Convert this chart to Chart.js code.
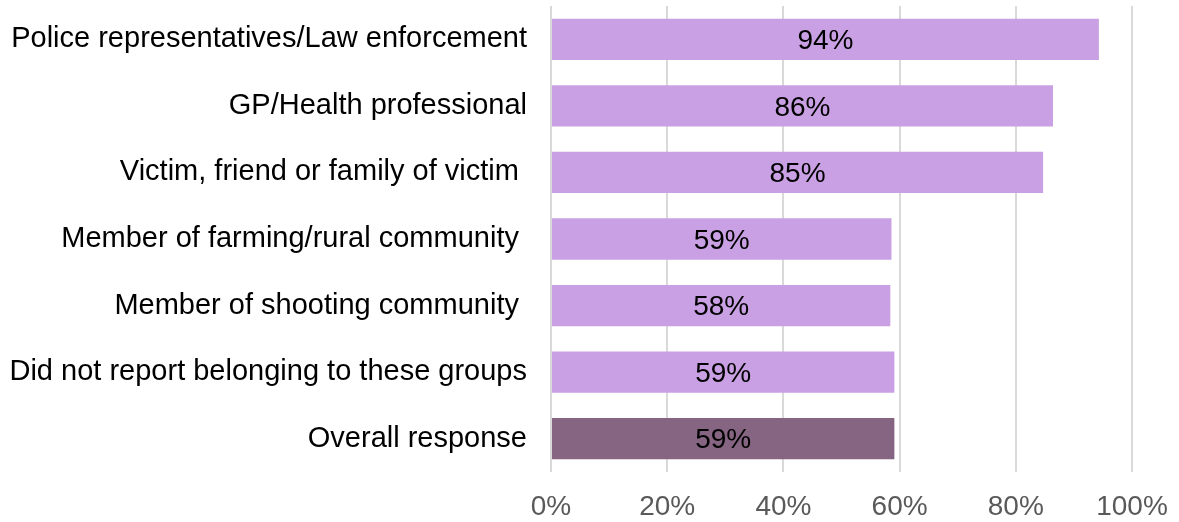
<!DOCTYPE html>
<html>
<head>
<meta charset="utf-8">
<script src="https://cdn.jsdelivr.net/npm/chart.js@4"></script>
<style>
  body { margin: 0; background: #fff; }
  #wrap { width: 1179px; height: 522px; }
</style>
</head>
<body>
<div id="wrap"><canvas id="chart" width="1179" height="522"></canvas></div>
<script>
var categories = [
    'Police representatives/Law enforcement',
    'GP/Health professional',
    'Victim, friend or family of victim ',
    'Member of farming/rural community ',
    'Member of shooting community ',
    'Did not report belonging to these groups',
    'Overall response'
];
var values = [94.3, 86.4, 84.7, 58.6, 58.4, 59.1, 59.1];
var tickValues = [0, 20, 40, 60, 80, 100];

var lightBar = '#c9a0e3';
var darkBar = '#856582';
var fontFamily = '"Liberation Sans", Arial, sans-serif';

// draw the percentage in the middle of each bar
var barLabels = {
    id: 'barLabels',
    afterDatasetsDraw: function (chart) {
        var ctx = chart.ctx;
        var meta = chart.getDatasetMeta(0);
        ctx.save();
        ctx.font = '28px ' + fontFamily;
        ctx.fillStyle = '#000';
        ctx.textAlign = 'center';
        ctx.textBaseline = 'middle';
        meta.data.forEach(function (bar, i) {
            var p = bar.getProps(['x', 'y', 'base'], true);
            ctx.fillText(Math.round(values[i]) + '%', (p.x + p.base) / 2, p.y + 2);
        });
        ctx.restore();
    }
};

new Chart(document.getElementById('chart'), {
    type: 'bar',
    plugins: [barLabels],
    data: {
        labels: categories,
        datasets: [{
            data: values,
            backgroundColor: values.map(function (v, i) {
                return i === values.length - 1 ? darkBar : lightBar;
            }),
            borderWidth: 0,
            barPercentage: 0.62,
            categoryPercentage: 1
        }]
    },
    options: {
        indexAxis: 'y',
        responsive: false,
        animation: false,
        layout: { padding: { top: 6, right: 47, bottom: 0, left: 0 } },
        plugins: {
            legend: { display: false },
            tooltip: { enabled: false }
        },
        scales: {
            x: {
                min: 0,
                max: 100,
                afterBuildTicks: function (scale) {
                    scale.ticks = tickValues.map(function (v) { return { value: v }; });
                },
                afterFit: function (scale) {
                    scale.height = 50;
                    scale.paddingLeft = 0;
                    scale.paddingRight = 0;
                },
                grid: { color: '#d9d9d9', lineWidth: 2, drawTicks: false },
                border: { display: false },
                ticks: {
                    padding: 18,
                    color: '#595959',
                    font: { family: fontFamily, size: 28 },
                    callback: function (v) { return v + '%'; }
                }
            },
            y: {
                afterFit: function (scale) {
                    scale.width = 551;
                    scale.paddingTop = 0;
                    scale.paddingBottom = 0;
                },
                grid: { display: false, drawTicks: true, tickLength: 22 },
                border: { display: false },
                ticks: {
                    padding: 2,
                    color: '#000',
                    font: { family: fontFamily, size: 29, lineHeight: 0.4 }
                }
            }
        }
    }
});
</script>
</body>
</html>
